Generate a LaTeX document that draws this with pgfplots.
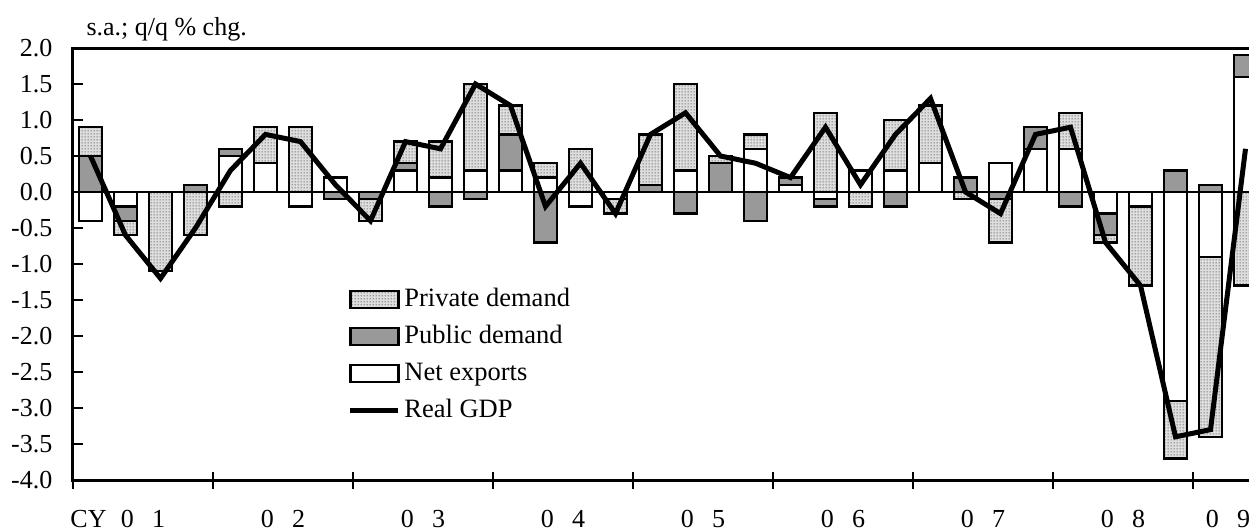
\documentclass[border=0pt]{standalone}
\usepackage{fontspec}
\setmainfont{Liberation Serif}
\usepackage{pgfplots}
\usepackage{pgfplotstable}
\pgfplotsset{compat=1.18}
\usetikzlibrary{patterns}
\pgfdeclarepatternformonly{fdots}{\pgfpointorigin}{\pgfpoint{1.2pt}{1.2pt}}{\pgfpoint{1.2pt}{1.2pt}}{\pgfpathcircle{\pgfpoint{0.6pt}{0.6pt}}{0.3pt}\pgfusepath{fill}}

\pgfplotstableread{
x    net  pub  priv gdp
0.5  -0.4 0.5  0.4  0.5
1.5  -0.2 -0.2 -0.2 -0.6
2.5  0.0  0.0  -1.1 -1.2
3.5  0.0  0.1  -0.6 -0.5
4.5  0.5  0.1  -0.2 0.3
5.5  0.4  0.0  0.5  0.8
6.5  -0.2 0.0  0.9  0.7
7.5  0.2  -0.1 0.0  0.1
8.5  0.0  -0.1 -0.3 -0.4
9.5  0.3  0.1  0.3  0.7
10.5 0.2  -0.2 0.5  0.6
11.5 0.3  -0.1 1.2  1.5
12.5 0.3  0.5  0.4  1.2
13.5 0.2  -0.7 0.2  -0.2
14.5 -0.2 0.0  0.6  0.4
15.5 -0.1 0.0  -0.2 -0.3
16.5 0.0  0.1  0.7  0.8
17.5 0.3  -0.3 1.2  1.1
18.5 0.0  0.4  0.1  0.5
19.5 0.6  -0.4 0.2  0.4
20.5 0.1  0.1  0.0  0.2
21.5 -0.1 -0.1 1.1  0.9
22.5 0.3  0.0  -0.2 0.1
23.5 0.3  -0.2 0.7  0.8
24.5 0.4  0.0  0.8  1.3
25.5 0.0  0.2  -0.1 0.0
26.5 0.4  -0.1 -0.6 -0.3
27.5 0.6  0.3  0.0  0.8
28.5 0.6  -0.2 0.5  0.9
29.5 -0.3 -0.3 -0.1 -0.7
30.5 -0.2 0.0  -1.1 -1.3
31.5 -2.9 0.3  -0.8 -3.4
32.5 -0.9 0.1  -2.5 -3.3
33.5 1.6  0.3  -1.3 0.6
}\data

\tikzset{
  barstyle/.style={draw=black, line width=1pt},
  netbar/.style={barstyle, fill=white},
  pubbar/.style={barstyle, fill=black!40},
  privbar/.style={barstyle, fill=black!13, postaction={pattern=fdots, pattern color=black!75}}
}
\pgfplotsset{
  base/.style={scale only axis, width=476pt, height=172.8pt,
    xmin=0, xmax=34, ymin=-4, ymax=2,
    axis line style={line width=1.2pt},
    tick style={black, line width=1pt}}
}
\newcommand{\yr}[2]{#1\hspace{0.7em}#2}

\begin{document}
\fontsize{10.4}{12.5}\selectfont
\begin{tikzpicture}
% positive parts, y axis and year labels
\begin{axis}[base, ybar stacked, bar width=0.66,
  ytick={-4,-3.5,-3,-2.5,-2,-1.5,-1,-0.5,0,0.5,1,1.5,2},
  yticklabels={-4.0,-3.5,-3.0,-2.5,-2.0,-1.5,-1.0,-0.5,0.0,0.5,1.0,1.5,2.0},
  ytick pos=left, tick align=inside, major tick length=4pt,
  yticklabel style={anchor=east, xshift=-4.6pt, font=\fontsize{10.4}{12}\selectfont},
  xtick={2,6,10,14,18,22,26,30,33},
  xticklabels={{\llap{CY\hspace{0.55em}}\yr01},{\yr02},{\yr03},{\yr04},{\yr05},{\yr06},{\yr07},{\yr08},{\yr09}},
  xtick style={draw=none},
  xticklabel style={anchor=base, yshift=-19.1pt, font=\fontsize{10.4}{12}\selectfont}]
\addplot[netbar] table[x=x, y expr={max(\thisrow{net},0)}]{\data};
\addplot[pubbar] table[x=x, y expr={max(\thisrow{pub},0)}]{\data};
\addplot[privbar] table[x=x, y expr={max(\thisrow{priv},0)}]{\data};
\end{axis}
% negative parts and year-boundary ticks
\begin{axis}[base, ybar stacked, bar width=0.66, hide y axis,
  xtick={0,4,8,12,16,20,24,28,32}, xticklabels={}, xtick pos=left,
  tick align=center, major tick length=6.8pt]
\addplot[netbar] table[x=x, y expr={min(\thisrow{net},0)}]{\data};
\addplot[pubbar] table[x=x, y expr={min(\thisrow{pub},0)}]{\data};
\addplot[privbar] table[x=x, y expr={min(\thisrow{priv},0)}]{\data};
\end{axis}
% zero line, GDP and legend
\begin{axis}[base, hide axis,
  legend style={draw=none, fill=none, at={(axis cs:7.84,-1.33)}, anchor=north west,
    inner sep=0pt, row sep=6pt, nodes={inner xsep=1.4pt, inner ysep=0pt},
    font=\fontsize{10.6}{12}\selectfont},
  legend cell align=left]
\addlegendimage{legend image code/.code={\draw[privbar] (0pt,-3.4pt) rectangle (19.2pt,3.4pt);}}
\addlegendentry{Private demand}
\addlegendimage{legend image code/.code={\draw[pubbar] (0pt,-3.4pt) rectangle (19.2pt,3.4pt);}}
\addlegendentry{Public demand}
\addlegendimage{legend image code/.code={\draw[netbar] (0pt,-3.4pt) rectangle (19.2pt,3.4pt);}}
\addlegendentry{Net exports}
\addlegendimage{legend image code/.code={\draw[black, line width=2pt] (0pt,0pt) -- (19.2pt,0pt);}}
\addlegendentry{Real GDP}
\addplot[forget plot, black, line width=0.8pt] coordinates {(0,0) (34,0)};
\addplot[forget plot, black, line width=2pt, mark=none] table[x=x, y=gdp]{\data};
\end{axis}
\node[anchor=base west, inner sep=0pt] at (5.2pt,177.6pt) {s.a.; q/q \% chg.};
\pgfresetboundingbox
\path[use as bounding box] (-29.2pt,-20pt) rectangle (470.4pt,192pt);
\end{tikzpicture}
\end{document}
